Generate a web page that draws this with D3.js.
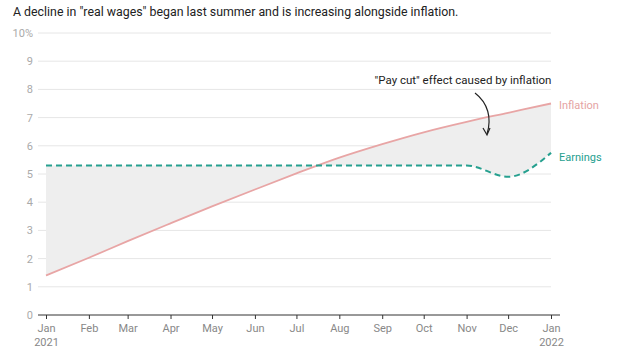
<!DOCTYPE html>
<html>
<head>
<meta charset="utf-8">
<script src="https://cdn.jsdelivr.net/npm/d3@7"></script>
<style>
body { margin: 0; background: #fff; font-family: Roboto, "Noto Sans", sans-serif; }
</style>
</head>
<body>
<script>
// monthly points, Jan 2021 .. Jan 2022
var months = ['2021-01-01', '2021-02-01', '2021-03-01', '2021-04-01', '2021-05-01', '2021-06-01',
              '2021-07-01', '2021-08-01', '2021-09-01', '2021-10-01', '2021-11-01', '2021-12-01', '2022-01-01'];
var inflation = [1.4, 2.03, 2.62, 3.25, 3.85, 4.45, 5.02, 5.58, 6.06, 6.48, 6.85, 7.17, 7.5];
var earnings  = [5.3, 5.3, 5.3, 5.3, 5.3, 5.3, 5.3, 5.3, 5.3, 5.3, 5.3, 4.9, 5.75];
var yTicks = [0, 1, 2, 3, 4, 5, 6, 7, 8, 9, 10];

var parse = d3.timeParse('%Y-%m-%d');
var rows = months.map(function (m, i) {
    return { date: parse(m), inf: inflation[i], earn: earnings[i] };
});

var width = 622, height = 352;
var svg = d3.select('body').append('svg')
    .attr('width', width)
    .attr('height', height);

var x = d3.scaleTime()
    .domain([rows[0].date, rows[rows.length - 1].date])
    .range([46, 551]);
var y = d3.scaleLinear().domain([0, 10]).range([315, 33]);

svg.append('text')
    .attr('x', 13).attr('y', 16)
    .attr('font-size', 12.35)
    .attr('fill', '#222')
    .text('A decline in "real wages" began last summer and is increasing alongside inflation.');

// grid + y labels
var grid = svg.append('g');
grid.selectAll('line').data(yTicks.slice(1)).enter().append('line')
    .attr('x1', 38).attr('x2', 551)
    .attr('y1', function (d) { return y(d); })
    .attr('y2', function (d) { return y(d); })
    .attr('stroke', '#e6e6e6');
grid.selectAll('text').data(yTicks).enter().append('text')
    .attr('x', 33)
    .attr('y', function (d) { return y(d) + 4; })
    .attr('text-anchor', 'end')
    .attr('font-size', 11)
    .attr('fill', '#aaa')
    .text(function (d) { return d === 10 ? '10%' : d; });

// shaded gap
var area = d3.area()
    .curve(d3.curveMonotoneX)
    .x(function (d) { return x(d.date); })
    .y0(function (d) { return y(d.earn); })
    .y1(function (d) { return y(d.inf); });
svg.append('path').datum(rows)
    .attr('d', area)
    .attr('fill', '#eeeeee');

// x axis
var xAxis = d3.axisBottom(x)
    .tickValues(rows.map(function (d) { return d.date; }))
    .tickSize(4)
    .tickFormat(d3.timeFormat('%b'));
var gx = svg.append('g')
    .attr('transform', 'translate(0,' + y(0) + ')')
    .call(xAxis);
gx.select('.domain').attr('d', 'M-8,0H' + (551 - 46 + 9)).attr('transform', 'translate(46,0)').attr('stroke', '#333');
gx.selectAll('.tick line').attr('stroke', '#333');
gx.selectAll('.tick text')
    .attr('font-family', 'Roboto, sans-serif')
    .attr('font-size', 11)
    .attr('fill', '#888')
    .attr('dy', '0.9em')
    .each(function (d, i) {
        if (d.getMonth() === 0) {
            d3.select(this).append('tspan')
                .attr('x', 0).attr('dy', '1.25em')
                .text(d.getFullYear());
        }
    });

var line = function (key) {
    return d3.line()
        .curve(d3.curveMonotoneX)
        .x(function (d) { return x(d.date); })
        .y(function (d) { return y(d[key]); });
};

svg.append('path').datum(rows)
    .attr('d', line('inf'))
    .attr('fill', 'none')
    .attr('stroke', '#e8a5a5')
    .attr('stroke-width', 1.8);

svg.append('path').datum(rows)
    .attr('d', line('earn'))
    .attr('fill', 'none')
    .attr('stroke', '#26a08f')
    .attr('stroke-width', 2)
    .attr('stroke-dasharray', '6,4');

var last = rows[rows.length - 1];
svg.append('text')
    .attr('x', x(last.date) + 8).attr('y', y(last.inf) + 5)
    .attr('font-size', 11).attr('fill', '#e5a3a3')
    .text('Inflation');
svg.append('text')
    .attr('x', x(last.date) + 8).attr('y', y(last.earn) + 8)
    .attr('font-size', 11).attr('fill', '#26a08f')
    .text('Earnings');

// annotation
svg.append('text')
    .attr('x', 463).attr('y', 84)
    .attr('text-anchor', 'middle')
    .attr('font-size', 11.5).attr('fill', '#222')
    .text('"Pay cut" effect caused by inflation');

svg.append('path')
    .attr('d', 'M475,93 C488,103 492,118 487,134')
    .attr('fill', 'none')
    .attr('stroke', '#222')
    .attr('stroke-width', 1.2);
svg.append('path')
    .attr('d', 'M483,128 L487,135 L490,128')
    .attr('fill', 'none')
    .attr('stroke', '#222')
    .attr('stroke-width', 1.2);
</script>
</body>
</html>
